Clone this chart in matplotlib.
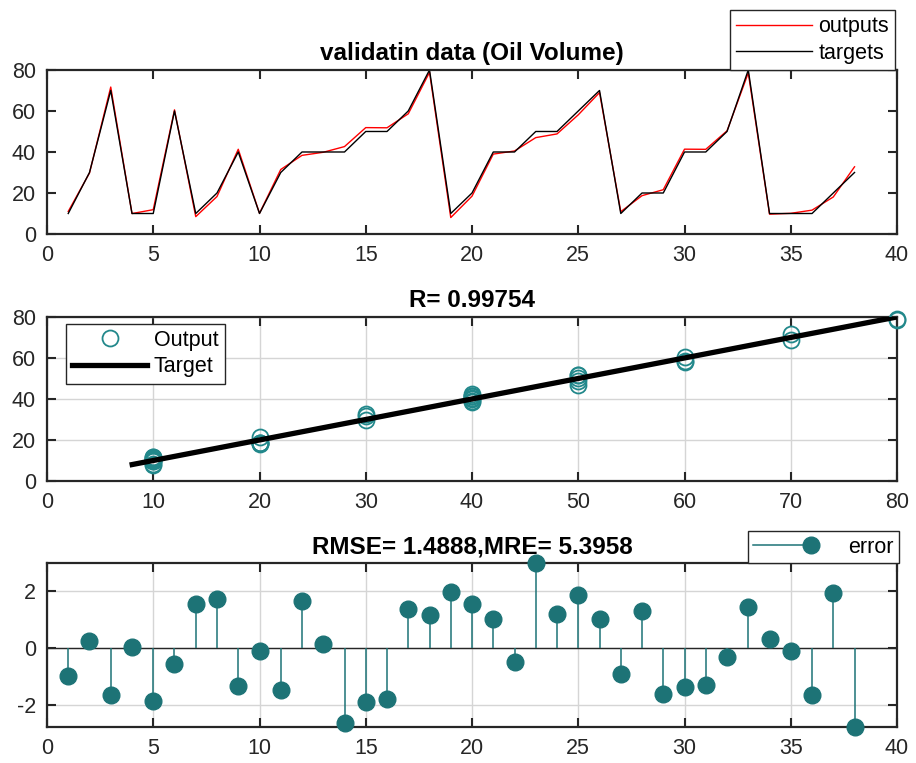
import matplotlib
matplotlib.use("Agg")
import matplotlib.pyplot as plt
from matplotlib.lines import Line2D
from matplotlib.legend_handler import HandlerLine2DCompound

plt.rcParams["font.family"] = ["Liberation Sans", "DejaVu Sans"]
plt.rcParams["axes.unicode_minus"] = False

sample = list(range(1, 39))
targets = [10, 30, 70, 10, 10, 60, 10, 20, 40, 10,
           30, 40, 40, 40, 50, 50, 60, 80, 10, 20,
           40, 40, 50, 50, 60, 70, 10, 20, 20, 40,
           40, 50, 80, 10, 10, 10, 20, 30]
outputs = [11.00, 29.74, 71.67, 9.98, 11.87, 60.56, 8.47, 18.29, 41.33, 10.12,
           31.47, 38.36, 39.86, 42.64, 51.89, 51.80, 58.63, 78.85, 8.02, 18.46,
           38.97, 40.49, 47.01, 48.81, 58.13, 68.97, 10.91, 18.70, 21.61, 41.38,
           41.30, 50.32, 78.57, 9.67, 10.09, 11.64, 18.06, 32.78]
errors = [-1.00, 0.26, -1.67, 0.02, -1.87, -0.56, 1.53, 1.71, -1.33, -0.12,
          -1.47, 1.64, 0.14, -2.64, -1.89, -1.80, 1.37, 1.15, 1.98, 1.54,
          1.03, -0.49, 2.99, 1.19, 1.87, 1.03, -0.91, 1.30, -1.61, -1.38,
          -1.30, -0.32, 1.43, 0.33, -0.09, -1.64, 1.94, -2.78]

r_text = "R= 0.99754"
err_text = "RMSE= 1.4888,MRE= 5.3958"

TEAL = "#1d7376"
TEAL_EDGE = "#22888b"
AX_COL = "#262626"
FS = 15.5
TFS = 17.5


class StemHandler(HandlerLine2DCompound):
    # marker at the right end of the legend line, like the reference
    def get_xdata(self, legend, xdescent, ydescent, width, height, fontsize):
        return [-xdescent, -xdescent + width], [-xdescent + width]


def style_axes(ax, grid):
    for sp in ax.spines.values():
        sp.set_linewidth(1.6)
        sp.set_color(AX_COL)
    ax.tick_params(direction="in", length=6.5, width=1.5, labelsize=FS,
                   colors=AX_COL, top=True, right=True, pad=8)
    if grid:
        ax.grid(True, color="#d5d5d5", linewidth=1.0)
        ax.set_axisbelow(True)


legend_kw = dict(fontsize=FS, frameon=True, fancybox=False, framealpha=1,
                 edgecolor=AX_COL, borderaxespad=0)

fig = plt.figure(figsize=(9.16, 7.63), dpi=100)
ax1 = fig.add_axes([0.0513, 0.6933, 0.928, 0.215])
ax2 = fig.add_axes([0.0513, 0.3696, 0.928, 0.215])
ax3 = fig.add_axes([0.0513, 0.0472, 0.928, 0.215])

# top: outputs vs targets
ax1.plot(sample, outputs, color="red", linewidth=1.0, label="outputs")
ax1.plot(sample, targets, color="black", linewidth=1.0, label="targets")
ax1.set_xlim(0, 40)
ax1.set_ylim(0, 80)
ax1.set_xticks(range(0, 41, 5))
ax1.set_yticks(range(0, 81, 20))
ax1.set_title("validatin data (Oil Volume)", fontsize=TFS, fontweight="bold", pad=7)
style_axes(ax1, grid=False)
ax1.legend(loc="lower right", bbox_to_anchor=(0.998, 1.0), handlelength=3.5,
           labelspacing=0.25, borderpad=0.3, handletextpad=0.3, **legend_kw)

# middle: regression
lo = min(min(targets), min(outputs))
hi = max(max(targets), max(outputs))
ax2.plot(targets, outputs, linestyle="none", marker="o", markersize=11.5,
         markerfacecolor="none", markeredgecolor=TEAL_EDGE, markeredgewidth=1.3,
         clip_on=False, label="Output", zorder=3)
ax2.plot([lo, hi], [lo, hi], color="black", linewidth=3.8, label="Target", zorder=4)
ax2.set_xlim(0, 80)
ax2.set_ylim(0, 80)
ax2.set_xticks(range(0, 81, 10))
ax2.set_yticks(range(0, 81, 20))
ax2.set_title(r_text, fontsize=TFS, fontweight="bold", pad=7)
style_axes(ax2, grid=True)
ax2.legend(loc="upper left", bbox_to_anchor=(0.022, 0.96), handlelength=3.5,
           labelspacing=0.25, borderpad=0.3, handletextpad=0.3, **legend_kw)

# bottom: error stems
ax3.axhline(0, color=AX_COL, linewidth=1.0, zorder=2)
ax3.vlines(sample, 0, errors, color=TEAL, linewidth=1.1, zorder=3)
ax3.plot(sample, errors, linestyle="none", marker="o", markersize=12,
         color=TEAL, clip_on=False, zorder=4)
ax3.set_xlim(0, 40)
ax3.set_ylim(min(errors), max(errors))
ax3.set_xticks(range(0, 41, 5))
ax3.set_yticks([-2, 0, 2])
ax3.set_title(err_text, fontsize=TFS, fontweight="bold", pad=7)
style_axes(ax3, grid=True)
stem_proxy = Line2D([], [], color=TEAL, linewidth=1.1, marker="o", markersize=12)
ax3.legend([stem_proxy], ["error"], handler_map={Line2D: StemHandler()},
           loc="lower right", bbox_to_anchor=(1.002, 1.0), handlelength=2.7,
           borderpad=0.25, handletextpad=1.7, numpoints=1, **legend_kw)

fig.savefig("out.png", dpi=100)
